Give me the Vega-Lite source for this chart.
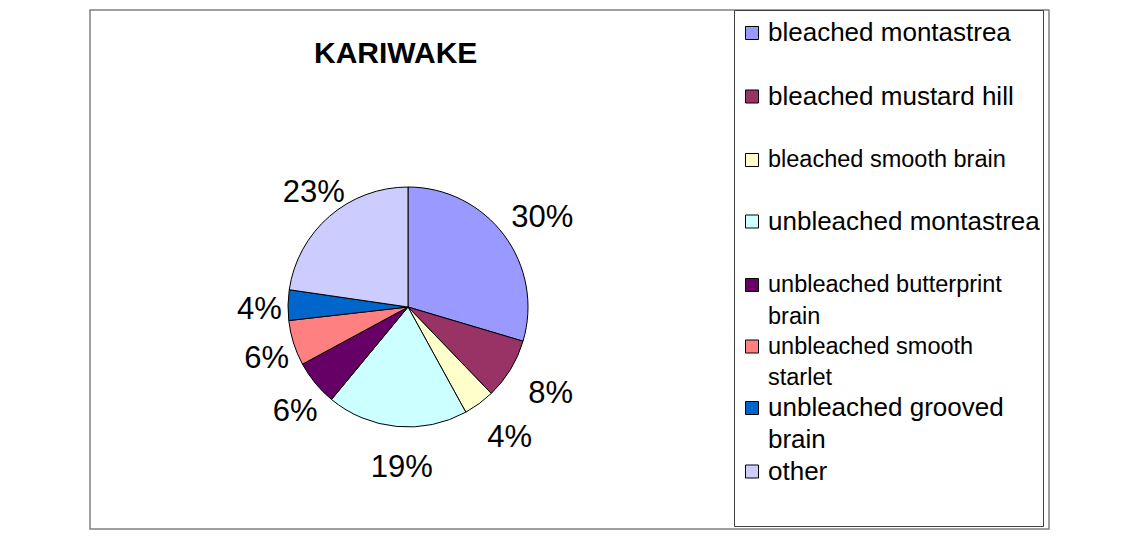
{
  "$schema": "https://vega.github.io/schema/vega-lite/v6.json",
  "width": 959,
  "height": 519,
  "padding": {"left": 90, "top": 10, "right": 90, "bottom": 11},
  "autosize": {"type": "none"},
  "background": "white",
  "config": {
    "view": {"stroke": "#808080", "strokeWidth": 1.5},
    "font": "Liberation Sans"
  },
  "title": {
    "text": "KARIWAKE",
    "anchor": "start",
    "frame": "group",
    "dx": 224,
    "dy": 29,
    "offset": -55,
    "baseline": "alphabetic",
    "font": "Liberation Sans",
    "fontSize": 30,
    "fontWeight": "bold",
    "color": "black"
  },
  "data": {
    "values": [
      {"i": 1, "category": "bleached montastrea", "value": 29.6},
      {"i": 2, "category": "bleached mustard hill", "value": 8.2},
      {"i": 3, "category": "bleached smooth brain", "value": 4.2},
      {"i": 4, "category": "unbleached montastrea", "value": 19.0},
      {"i": 5, "category": "unbleached butterprint brain", "value": 6.1},
      {"i": 6, "category": "unbleached smooth starlet", "value": 6.1},
      {"i": 7, "category": "unbleached grooved brain", "value": 4.1},
      {"i": 8, "category": "other", "value": 22.7}
    ]
  },
  "transform": [
    {"joinaggregate": [{"op": "sum", "field": "value", "as": "total"}]},
    {"calculate": "datum.value / datum.total", "as": "share"}
  ],
  "layer": [
    {
      "transform": [{"filter": "datum.i == 1"}],
      "mark": {"type": "rect", "fill": null, "stroke": "#808080", "strokeWidth": 1.5},
      "encoding": {}
    },
    {
      "mark": {"type": "arc", "outerRadius": 120, "stroke": "black", "strokeWidth": 1, "xOffset": -161.5, "yOffset": 37.5},
      "encoding": {
        "theta": {"field": "value", "type": "quantitative", "stack": true},
        "order": {"field": "i", "type": "quantitative"},
        "color": {
          "field": "category",
          "type": "nominal",
          "sort": null,
          "scale": {
            "domain": ["bleached montastrea", "bleached mustard hill", "bleached smooth brain", "unbleached montastrea", "unbleached butterprint brain", "unbleached smooth starlet", "unbleached grooved brain", "other"],
            "range": ["#9999FF", "#993366", "#FFFFCC", "#CCFFFF", "#660066", "#FF8080", "#0066CC", "#CCCCFF"]
          },
          "legend": {
            "orient": "none",
            "legendX": 644,
            "legendY": 0,
            "title": " ",
            "titleFontSize": 1,
            "titlePadding": 6,
            "strokeColor": "#404040",
            "padding": 3,
            "rowPadding": 5.5,
            "symbolType": "square",
            "symbolSize": 169,
            "symbolOffset": 2,
            "symbolStrokeColor": "black",
            "symbolStrokeWidth": 1,
            "labelFont": "Liberation Sans",
            "labelFontSize": 26,
            "labelColor": "black",
            "labelOffset": 3,
            "labelLimit": 400,
            "labelExpr": "datum.value == 'unbleached butterprint brain' ? ['unbleached butterprint', 'brain'] : datum.value == 'unbleached smooth starlet' ? ['unbleached smooth', 'starlet'] : datum.value == 'unbleached grooved brain' ? ['unbleached grooved', 'brain'] : [datum.value, ' ']",
            "encode": {
              "labels": {
                "update": {
                  "fontSize": {"signal": "indexof(['bleached smooth brain', 'unbleached butterprint brain', 'unbleached smooth starlet'], datum.value) >= 0 ? 23.5 : 26"},
                  "lineHeight": {"signal": "datum.value == 'other' ? 38 : 31.5"}
                }
              }
            }
          }
        }
      }
    },
    {
      "mark": {"type": "text", "radius": 157, "fontSize": 31, "font": "Liberation Sans", "color": "black", "xOffset": -153, "yOffset": 42.5},
      "encoding": {
        "theta": {"field": "value", "type": "quantitative", "stack": true},
        "order": {"field": "i", "type": "quantitative"},
        "text": {"field": "share", "type": "quantitative", "format": ".0%"}
      }
    }
  ]
}
